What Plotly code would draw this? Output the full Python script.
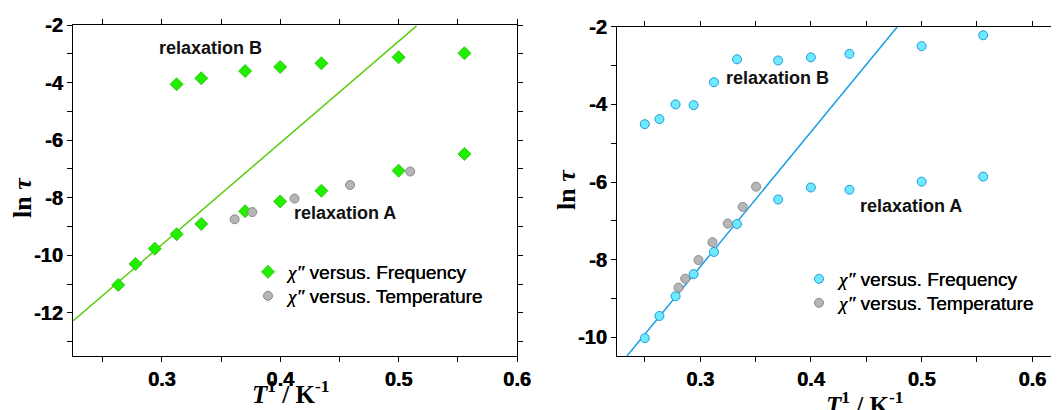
import plotly.graph_objects as go

# ---------------- data ----------------
# Left panel
left_B_x = [0.3125, 0.3333, 0.3704, 0.4000, 0.4348, 0.5000, 0.5556]
left_B_y = [-4.06, -3.85, -3.60, -3.46, -3.33, -3.12, -2.98]
left_A_x = [0.2632, 0.2778, 0.2941, 0.3125, 0.3333, 0.3704, 0.4000, 0.4348, 0.5000, 0.5556]
left_A_y = [-11.03, -10.30, -9.77, -9.27, -8.91, -8.47, -8.13, -7.76, -7.06, -6.48]
left_T_x = [0.3615, 0.3764, 0.4121, 0.4590, 0.5098]
left_T_y = [-8.75, -8.50, -8.03, -7.56, -7.09]
left_fit_x = [0.2253, 0.5152]
left_fit_y = [-12.27, -2.03]

# Right panel
right_B_x = [0.2500, 0.2632, 0.2778, 0.2941, 0.3125, 0.3333, 0.3704, 0.4000, 0.4348, 0.5000, 0.5556]
right_B_y = [-4.51, -4.38, -4.00, -4.02, -3.43, -2.84, -2.87, -2.79, -2.70, -2.50, -2.22]
right_A_x = [0.2500, 0.2632, 0.2778, 0.2941, 0.3125, 0.3333, 0.3704, 0.4000, 0.4348, 0.5000, 0.5556]
right_A_y = [-10.02, -9.45, -8.94, -8.37, -7.80, -7.08, -6.45, -6.14, -6.20, -5.99, -5.86]
right_T_x = [0.2805, 0.2865, 0.2985, 0.3111, 0.3249, 0.3384, 0.3505]
right_T_y = [-8.72, -8.49, -8.01, -7.55, -7.07, -6.64, -6.12]
right_fit_x = [0.2339, 0.4781]
right_fit_y = [-10.48, -2.00]

left_xticks = [0.3, 0.4, 0.5, 0.6]
left_yticks = [-2, -4, -6, -8, -10, -12]
right_xticks = [0.3, 0.4, 0.5, 0.6]
right_yticks = [-2, -4, -6, -8, -10]

chi = "<span style=\"font-family:'Liberation Serif','Times New Roman',serif;font-style:italic\">\u03c7\u2033</span>"
label_freq = chi + " versus. Frequency"
label_temp = chi + " versus. Temperature"

W, H = 1059, 410
OFF = 8  # page body margin of the html page


def px(x):
    return (x - OFF) / W


def py(y):
    return 1 - (y - OFF) / H


GREEN_FILL, GREEN_EDGE, GREEN_LINE = "#22ee00", "#19c000", "#5ccc10"
CYAN_FILL, CYAN_EDGE, CYAN_LINE = "#70e8ff", "#1c9ed8", "#1a9ee8"
GREY_FILL, GREY_EDGE = "#b6b6b6", "#8a8a8a"

fig = go.Figure()

# ---- left panel ----
fig.add_trace(go.Scatter(x=left_fit_x, y=left_fit_y, mode="lines",
                         line=dict(color=GREEN_LINE, width=1.5),
                         showlegend=False, xaxis="x", yaxis="y"))
fig.add_trace(go.Scatter(x=left_B_x + left_A_x, y=left_B_y + left_A_y, mode="markers",
                         marker=dict(symbol="diamond", size=10, color=GREEN_FILL,
                                     line=dict(color=GREEN_EDGE, width=0.8)),
                         name=label_freq, legend="legend", xaxis="x", yaxis="y"))
fig.add_trace(go.Scatter(x=left_T_x, y=left_T_y, mode="markers",
                         marker=dict(symbol="circle", size=9, color=GREY_FILL,
                                     line=dict(color=GREY_EDGE, width=1)),
                         name=label_temp, legend="legend3", xaxis="x", yaxis="y"))

# ---- right panel ----
fig.add_trace(go.Scatter(x=right_fit_x, y=right_fit_y, mode="lines",
                         line=dict(color=CYAN_LINE, width=1.5),
                         showlegend=False, xaxis="x2", yaxis="y2"))
fig.add_trace(go.Scatter(x=right_B_x + right_A_x, y=right_B_y + right_A_y, mode="markers",
                         marker=dict(symbol="circle", size=9, color=CYAN_FILL,
                                     line=dict(color=CYAN_EDGE, width=1)),
                         name=label_freq, legend="legend2", xaxis="x2", yaxis="y2"))
fig.add_trace(go.Scatter(x=right_T_x, y=right_T_y, mode="markers",
                         marker=dict(symbol="circle", size=9, color=GREY_FILL,
                                     line=dict(color=GREY_EDGE, width=1)),
                         name=label_temp, legend="legend4", xaxis="x2", yaxis="y2"))

tickfont = dict(family="Liberation Sans, Arial, sans-serif", size=20, color="black",
                weight="bold", shadow="0.5px 0px 0px black")


def xax(domain, rng, ticks, anchor):
    return dict(domain=domain, range=rng, anchor=anchor, automargin=False,
                tickmode="array", tickvals=ticks, ticktext=[f"{t:g}" for t in ticks],
                ticks="outside", ticklen=5, tickwidth=1, tickcolor="black",
                minor=dict(dtick=0.05, tick0=0.25, ticks="outside", ticklen=5,
                           tickwidth=1, tickcolor="black", showgrid=False),
                showline=True, linecolor="black", linewidth=1.3, mirror="ticks",
                showgrid=False, zeroline=False, tickfont=tickfont)


def yax(domain, rng, ticks, anchor, mirror):
    return dict(domain=domain, range=rng, anchor=anchor, automargin=False,
                tickmode="array", tickvals=ticks, ticktext=[f"{t:g}" for t in ticks],
                ticks="outside", ticklen=5, tickwidth=1, tickcolor="black",
                minor=dict(dtick=1, tick0=-3, ticks="outside", ticklen=5,
                           tickwidth=1, tickcolor="black", showgrid=False),
                showline=True, linecolor="black", linewidth=1.3, mirror=mirror,
                showgrid=False, zeroline=False, tickfont=tickfont)


legfont = dict(family="Liberation Sans, Arial, sans-serif", size=19, color="black",
               shadow="0.3px 0px 0px black")


def leg(x, y):
    return dict(x=px(x), y=py(y), xanchor="left", yanchor="middle",
                bgcolor="rgba(0,0,0,0)", borderwidth=0, tracegroupgap=0,
                itemwidth=30, font=legfont)


fig.update_layout(
    template="none",
    width=W, height=H, autosize=False,
    margin=dict(l=0, r=0, t=0, b=0, pad=0, autoexpand=False),
    paper_bgcolor="white", plot_bgcolor="white",
    xaxis=xax([px(73), px(517)], [0.225, 0.6], left_xticks, "y"),
    yaxis=yax([py(356), py(25)], [-13.5, -2], left_yticks, "x", "ticks"),
    xaxis2=xax([px(617), 1.0], [0.2249, 0.6313], right_xticks, "y2"),
    yaxis2=yax([py(356), py(26.7)], [-10.48, -2], right_yticks, "x2", False),
    legend=leg(248, 272),
    legend3=leg(248, 296),
    legend2=leg(799, 279),
    legend4=leg(799, 303),
)

ann_font = dict(family="Liberation Sans, Arial, sans-serif", size=18, color="#111111", weight="bold")
serif = "Liberation Serif, Times New Roman, serif"
annotations = [
    dict(text="relaxation B", x=px(210), y=py(48)),
    dict(text="relaxation A", x=px(345), y=py(213)),
    dict(text="relaxation B", x=px(777), y=py(78)),
    dict(text="relaxation A", x=px(911), y=py(206)),
]
for a in annotations:
    fig.add_annotation(xref="paper", yref="paper", showarrow=False,
                       xanchor="center", yanchor="middle", font=ann_font, **a)

ytitle = "<b>ln <i>\u03c4</i></b>"
xtitle = "<b><i>T</i><sup>1</sup> / K<sup>-1</sup></b>"
for (x, y) in [(22, 198), (567, 190)]:
    fig.add_annotation(xref="paper", yref="paper", showarrow=False, text=ytitle,
                       textangle=-90, x=px(x), y=py(y), xanchor="center", yanchor="middle",
                       font=dict(family=serif, size=26, color="black"))
for (x, y) in [(291, 392), (865, 403)]:
    fig.add_annotation(xref="paper", yref="paper", showarrow=False, text=xtitle,
                       x=px(x), y=py(y), xanchor="center", yanchor="middle",
                       font=dict(family=serif, size=25, color="black"))

fig.write_html("out.html")
